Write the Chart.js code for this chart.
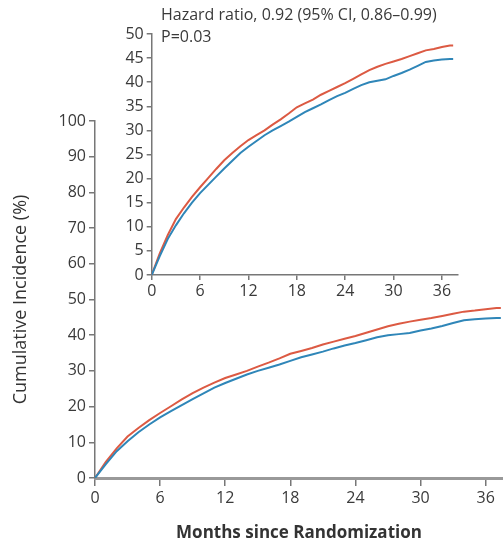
<!DOCTYPE html>
<html>
<head>
<meta charset="utf-8">
<script src="https://cdn.jsdelivr.net/npm/chart.js@4.4.1/dist/chart.umd.min.js"></script>
<style>
  html, body { margin: 0; padding: 0; background: #fff; }
  #wrap { position: relative; width: 503px; height: 543px; }
  #main { position: absolute; left: 0; top: 0; }
  #inset { position: absolute; left: 105px; top: 0; background: #fff; }
</style>
</head>
<body>
<div id="wrap">
  <canvas id="main" width="503" height="543"></canvas>
  <canvas id="inset" width="370" height="305"></canvas>
</div>
<script>
// months since randomization
const months = [0, 1, 2, 3, 4, 5, 6, 7, 8, 9, 10, 11, 12, 13, 14, 15, 16, 17, 18, 19,
  20, 21, 22, 23, 24, 25, 26, 27, 28, 29, 30, 31, 32, 33, 34, 35, 36, 37, 37.4];
// cumulative incidence (%)
const redCurve = [0, 4.5, 8.3, 11.6, 14, 16.2, 18.2, 20.1, 22, 23.8, 25.3, 26.7, 28, 29, 30,
  31.2, 32.3, 33.5, 34.8, 35.6, 36.4, 37.4, 38.2, 39, 39.8, 40.7, 41.6, 42.5, 43.2, 43.8,
  44.3, 44.8, 45.4, 46, 46.6, 46.9, 47.3, 47.6, 47.6];
const blueCurve = [0, 3.9, 7.5, 10.3, 12.8, 15, 17, 18.7, 20.4, 22.1, 23.7, 25.3, 26.6, 27.8,
  29, 30, 30.9, 31.8, 32.8, 33.8, 34.6, 35.4, 36.3, 37.1, 37.8, 38.6, 39.4, 40, 40.3, 40.6,
  41.3, 41.9, 42.6, 43.4, 44.2, 44.5, 44.7, 44.8, 44.8];
const xTicks = [0, 6, 12, 18, 24, 30, 36];
const hrText = "Hazard ratio, 0.92 (95% CI, 0.86\u20130.99)";
const pText = "P=0.03";

const RED = "#dc5a43";
const BLUE = "#2f86b8";
const AXIS = "#777";
const TEXT = "#3a3a3a";

Chart.defaults.font.family = "'Open Sans', 'Liberation Sans', sans-serif";
Chart.defaults.font.size = 16;
Chart.defaults.color = TEXT;

function series(ys) {
  return months.map(function (m, i) { return { x: m, y: ys[i] }; });
}

function datasets() {
  return [
    { data: series(blueCurve), borderColor: BLUE, borderWidth: 2, pointRadius: 0, tension: 0 },
    { data: series(redCurve), borderColor: RED, borderWidth: 2, pointRadius: 0, tension: 0 },
  ];
}

function fixedTicks(list) {
  return function (axis) {
    axis.ticks = list.map(function (v) { return { value: v }; });
  };
}

// main chart
new Chart(document.getElementById("main"), {
  type: "line",
  data: { datasets: datasets() },
  options: {
    responsive: false,
    animation: false,
    layout: { padding: { top: 121, right: 0, left: 0, bottom: 0 } },
    plugins: { legend: { display: false }, tooltip: { enabled: false } },
    scales: {
      x: {
        type: "linear", min: 0, max: 37.6,
        afterBuildTicks: fixedTicks(xTicks),
        afterFit: function (s) { s.height = 65; },
        border: { display: true, color: "#999", width: 3 },
        grid: { drawOnChartArea: false, drawTicks: true, tickLength: 8, color: AXIS, lineWidth: 1.5 },
        ticks: { padding: 3, color: TEXT, maxRotation: 0 },
        title: { display: true, text: "Months since Randomization", color: "#333",
          font: { size: 17, weight: "bold" }, padding: { top: 0, bottom: 0 } },
      },
      y: {
        min: 0, max: 100,
        ticks: { stepSize: 10, padding: 3, color: TEXT },
        afterFit: function (s) { s.width = 95; },
        border: { display: true, color: AXIS, width: 1.5 },
        grid: { drawOnChartArea: false, drawTicks: true, tickLength: 6, color: AXIS, lineWidth: 1.5 },
        title: { display: true, text: "Cumulative Incidence (%)", color: "#333",
          font: { size: 18 }, padding: { top: 10, bottom: 0 } },
      },
    },
  },
});

// inset text
const insetText = {
  id: "insetText",
  afterDraw: function (chart) {
    const ctx = chart.ctx;
    ctx.save();
    ctx.fillStyle = TEXT;
    ctx.font = "16px 'Open Sans', 'Liberation Sans', sans-serif";
    ctx.textBaseline = "middle";
    ctx.fillText(hrText, 56, 15);
    ctx.fillText(pText, 56, 37);
    ctx.restore();
  },
};

// inset (zoomed) chart
new Chart(document.getElementById("inset"), {
  type: "line",
  data: { datasets: datasets() },
  plugins: [insetText],
  options: {
    responsive: false,
    animation: false,
    layout: { padding: { top: 34, right: 17, left: 0, bottom: 0 } },
    plugins: { legend: { display: false }, tooltip: { enabled: false } },
    scales: {
      x: {
        type: "linear", min: 0, max: 38,
        afterBuildTicks: fixedTicks(xTicks),
        afterFit: function (s) { s.height = 30; },
        border: { display: true, color: AXIS, width: 1.5 },
        grid: { drawOnChartArea: false, drawTicks: true, tickLength: 5, color: AXIS, lineWidth: 1.5 },
        ticks: { padding: 2, color: TEXT, maxRotation: 0 },
      },
      y: {
        min: 0, max: 50,
        ticks: { stepSize: 5, padding: 3, color: TEXT },
        afterFit: function (s) { s.width = 46.7; },
        border: { display: true, color: AXIS, width: 1.5 },
        grid: { drawOnChartArea: false, drawTicks: true, tickLength: 5, color: AXIS, lineWidth: 1.5 },
      },
    },
  },
});
</script>
</body>
</html>
